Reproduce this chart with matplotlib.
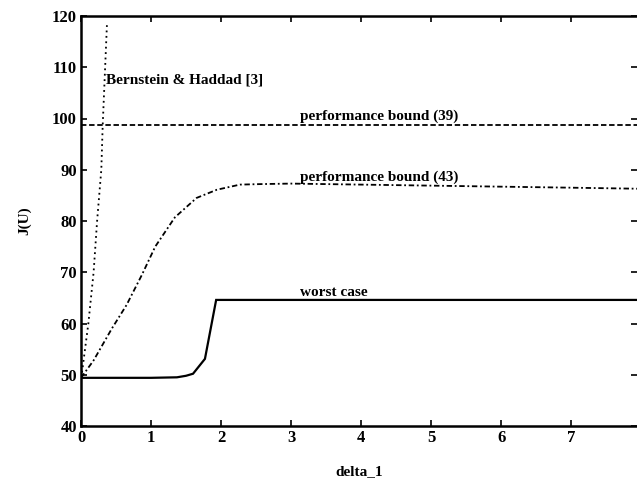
import matplotlib
matplotlib.use("Agg")
import matplotlib.pyplot as plt

# worst case J(U) versus delta_1
worst_delta = [0.0, 0.5, 1.0, 1.37, 1.5, 1.6, 1.77, 1.93, 3.0, 5.0, 7.94]
worst_j = [49.4, 49.4, 49.4, 49.5, 49.8, 50.2, 53.1, 64.6, 64.6, 64.6, 64.6]

# performance bound (43), dash-dot
pb43_delta = [0.0, 0.18, 0.44, 0.65, 0.87, 1.06, 1.34, 1.65, 1.94, 2.27, 2.56,
              3.0, 4.0, 5.0, 6.0, 7.0, 7.94]
pb43_j = [49.4, 52.8, 59.0, 63.6, 69.5, 75.0, 80.7, 84.5, 86.1, 87.1, 87.2,
          87.3, 87.1, 86.9, 86.7, 86.5, 86.3]

# performance bound (39), constant
pb39_delta = [0.0, 7.94]
pb39_j = [98.7, 98.7]

# Bernstein & Haddad [3], dotted
bh_delta = [0.0, 0.01, 0.105, 0.18, 0.23, 0.29, 0.31, 0.37]
bh_j = [49.4, 50.0, 60.0, 70.0, 80.0, 90.0, 98.7, 118.2]

x_ticks = [0, 1, 2, 3, 4, 5, 6, 7]
y_ticks = [40, 50, 60, 70, 80, 90, 100, 110, 120]

plt.rcParams["font.family"] = "Liberation Serif"
plt.rcParams["font.weight"] = "bold"

fig = plt.figure(figsize=(6.37, 4.83), dpi=100)
ax = fig.add_axes([81 / 637, 1 - 426 / 483, 1 - 81 / 637, (426 - 16) / 483])

ax.plot(worst_delta, worst_j, color="black", linewidth=1.6, solid_joinstyle="miter")
ax.plot(pb43_delta, pb43_j, color="black", linewidth=1.3, linestyle=(0, (3, 1.5, 1, 1.5)))
ax.plot(pb39_delta, pb39_j, color="black", linewidth=1.3, linestyle=(0, (3, 1.5)))
ax.plot(bh_delta, bh_j, color="black", linewidth=1.3, linestyle=(0, (1, 2)))

ax.text(0.36, 107.5, "Bernstein & Haddad [3]", fontsize=11, va="center", ha="left")
ax.text(3.13, 100.5, "performance bound (39)", fontsize=11, va="center", ha="left")
ax.text(3.13, 88.5, "performance bound (43)", fontsize=11, va="center", ha="left")
ax.text(3.13, 66.1, "worst case", fontsize=11, va="center", ha="left")

ax.set_xlim(0, 7.94)
ax.set_ylim(40, 120)
ax.set_xticks(x_ticks)
ax.set_yticks(y_ticks)
ax.tick_params(direction="in", length=4, width=1.2, top=True, right=True,
               labelsize=12, pad=3)
for lbl in ax.get_xticklabels() + ax.get_yticklabels():
    lbl.set_fontweight("bold")

for side in ["left", "bottom", "top"]:
    ax.spines[side].set_linewidth(1.8)
ax.spines["right"].set_visible(False)

ax.set_xlabel("delta_1", fontsize=11, fontweight="bold", labelpad=14)
ax.set_ylabel("J(U)", fontsize=11, fontweight="bold", labelpad=15)

fig.savefig("out.png", dpi=100)
